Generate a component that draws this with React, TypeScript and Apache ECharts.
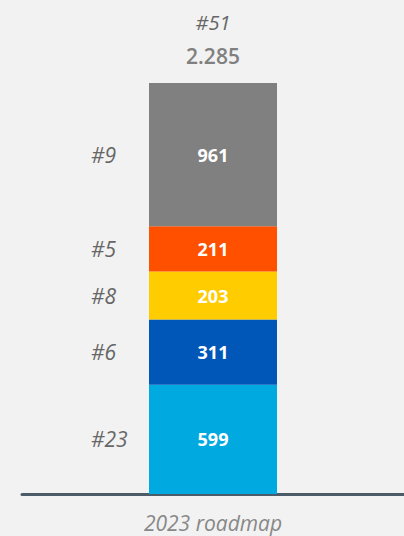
import React, { useEffect, useRef } from "react";
import * as echarts from "echarts";

// Segments from bottom to top
const categories = ["2023 roadmap"];
const segmentValues = [599, 311, 203, 211, 961];
const segmentCounts = [23, 6, 8, 5, 9];
// visual segment heights as drawn in the reference (not proportional to values)
const segmentHeights = [109, 65, 48, 45, 143];
const segmentColors = ["#00a9e0", "#0057b8", "#ffcc00", "#ff5000", "#808080"];

const FONT = "'Open Sans', 'Noto Sans', sans-serif";

function fmtThousands(n: number): string {
  return String(n).replace(/\B(?=(\d{3})+(?!\d))/g, ".");
}

export default function App() {
  const ref = useRef<HTMLDivElement>(null);
  useEffect(() => {
    if (!ref.current) return;
    const chart = echarts.init(ref.current, undefined, { renderer: "svg" });
    const totalValue = segmentValues.reduce((a, b) => a + b, 0);
    const totalCount = segmentCounts.reduce((a, b) => a + b, 0);
    const totalHeight = segmentHeights.reduce((a, b) => a + b, 0);

    const series: any[] = segmentHeights.map((h, i) => ({
      type: "bar",
      stack: "s",
      barWidth: 128,
      data: [h],
      itemStyle: { color: segmentColors[i] },
      label: {
        show: true,
        position: "inside",
        formatter: () => `{l|#${segmentCounts[i]}}{v|${segmentValues[i]}}{r|}`,
        rich: {
          l: {
            width: 58,
            align: "left",
            fontFamily: FONT,
            fontStyle: "italic",
            fontSize: 21,
            color: "#666666",
          },
          v: {
            width: 128,
            align: "center",
            fontFamily: FONT,
            fontWeight: "bold",
            fontSize: 18,
            color: "#ffffff",
          },
          r: { width: 58 },
        },
      },
    }));

    series.push({
      type: "bar",
      stack: "s",
      barWidth: 128,
      data: [0],
      itemStyle: { color: "rgba(0,0,0,0)" },
      label: {
        show: true,
        position: "top",
        distance: 10,
        formatter: () => `{a|#${totalCount}}\n{b|${fmtThousands(totalValue)}}`,
        rich: {
          a: {
            fontFamily: FONT,
            fontStyle: "italic",
            fontSize: 20,
            color: "#666666",
            lineHeight: 34,
            align: "center",
          },
          b: {
            fontFamily: FONT,
            fontWeight: 600,
            fontSize: 21,
            color: "#808080",
            lineHeight: 34,
            align: "center",
          },
        },
      },
    });

    chart.setOption({
      animation: false,
      backgroundColor: "#f2f2f2",
      grid: { left: 22, right: 0, top: 83, bottom: 42 },
      xAxis: {
        type: "category",
        data: categories,
        axisLine: { show: true, lineStyle: { color: "#4b5b67", width: 3 } },
        axisTick: { show: false },
        axisLabel: {
          fontFamily: FONT,
          fontStyle: "italic",
          fontSize: 21,
          lineHeight: 20,
          color: "#888888",
          margin: 19,
        },
      },
      yAxis: {
        type: "value",
        min: 0,
        max: totalHeight,
        show: false,
        splitLine: { show: false },
      },
      series,
    });
    return () => chart.dispose();
  }, []);
  return (
    <div
      ref={ref}
      style={{ position: "fixed", left: 0, top: 0, width: 404, height: 536 }}
    />
  );
}
